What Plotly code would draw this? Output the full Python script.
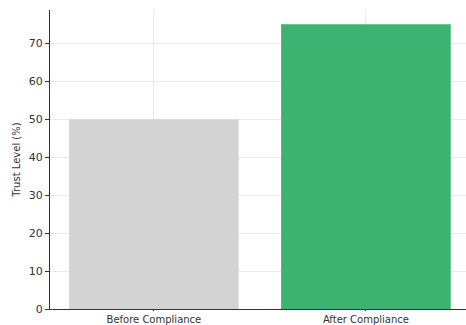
import plotly.graph_objects as go

# Trust level before and after compliance
categories = ["Before Compliance", "After Compliance"]
trust_levels = [50, 75]
bar_colors = ["#d3d3d3", "#3cb371"]
y_ticks = [0, 10, 20, 30, 40, 50, 60, 70]

fig = go.Figure(
    go.Bar(
        x=[0, 1],
        y=trust_levels,
        width=0.8,
        marker=dict(color=bar_colors, line=dict(width=0)),
    )
)

axis_font = dict(family="DejaVu Sans", size=11, color="#333333")

fig.update_layout(
    width=466,
    height=325,
    margin=dict(l=50, r=0, t=10, b=16),
    paper_bgcolor="white",
    plot_bgcolor="white",
    showlegend=False,
    font=axis_font,
    xaxis=dict(
        range=[-0.49, 1.472],
        tickmode="array",
        tickvals=[0, 1],
        ticktext=categories,
        showgrid=True,
        gridcolor="#ebebeb",
        gridwidth=1,
        showline=True,
        linecolor="#333333",
        linewidth=1,
        ticks="outside",
        ticklen=1,
        tickcolor="#333333",
        zeroline=False,
        automargin=False,
        tickfont=dict(family="DejaVu Sans", size=10, color="#333333"),
    ),
    yaxis=dict(
        range=[0, 78.75],
        tickmode="array",
        tickvals=y_ticks,
        showgrid=True,
        gridcolor="#ebebeb",
        gridwidth=1,
        showline=True,
        linecolor="#333333",
        linewidth=1,
        ticks="outside",
        ticklen=4,
        tickcolor="#333333",
        zeroline=False,
        automargin=False,
        tickfont=axis_font,
        title=dict(text="Trust Level (%)", font=dict(family="DejaVu Sans", size=10, color="#333333"), standoff=6),
    ),
)

fig.write_html("out.html")
